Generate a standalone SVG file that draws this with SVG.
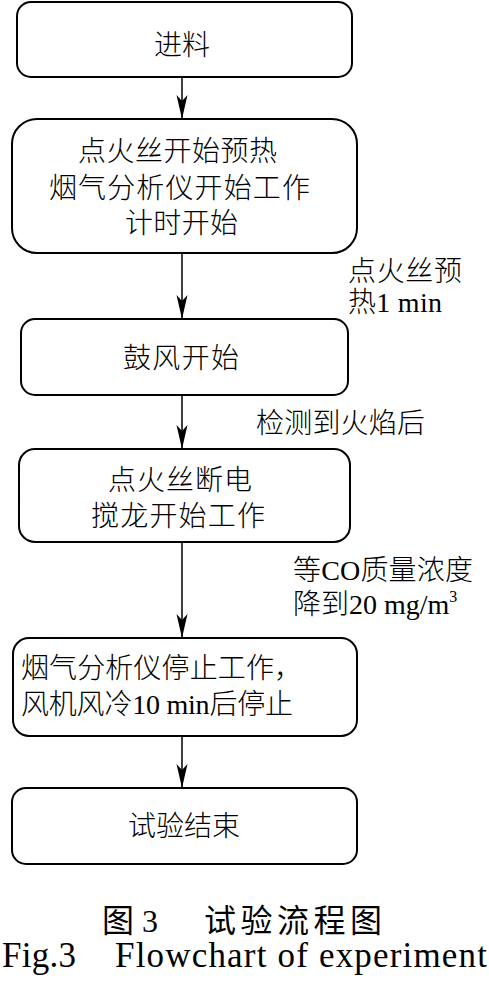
<svg xmlns="http://www.w3.org/2000/svg" width="489" height="995" viewBox="0 0 489 995">
<style>
.box{fill:#fff;stroke:#000;stroke-width:2}
.t{font-family:"Liberation Serif","Noto Sans CJK SC",serif;font-size:28px;fill:#000;font-weight:300}
.cap{font-family:"Liberation Serif","Noto Sans CJK SC",serif;font-size:32px;fill:#000}
.fig{font-family:"Liberation Serif",serif;font-size:35px;fill:#000}
.ln{stroke:#000;stroke-width:1.5;fill:none;marker-end:url(#ah)}
</style>
<defs>
<marker id="ah" markerUnits="userSpaceOnUse" viewBox="0 0 24 12" refX="24" refY="6" markerWidth="24" markerHeight="12" orient="auto">
<path d="M0,0.5 L6,6 L0,11.5 L24,6 Z" fill="#000"/>
</marker>
</defs>
<rect width="489" height="995" fill="#fff"/>
<g id="connectors">
<line class="ln" x1="182" y1="77" x2="182" y2="119"/>
<line class="ln" x1="182" y1="253" x2="182" y2="319"/>
<line class="ln" x1="182" y1="395" x2="182" y2="449"/>
<line class="ln" x1="182" y1="542" x2="182" y2="638"/>
<line class="ln" x1="182" y1="736" x2="182" y2="788"/>
<text class="t" x="348" y="281" textLength="114" lengthAdjust="spacing">点火丝预</text>
<text class="t" x="348" y="312" textLength="94" lengthAdjust="spacing">热1 min</text>
<text class="t" x="256" y="433" textLength="169" lengthAdjust="spacing">检测到火焰后</text>
<text class="t" x="293" y="580" textLength="180" lengthAdjust="spacing">等CO质量浓度</text>
<text class="t" x="293" y="614">降到20 mg/m<tspan font-size="16" dy="-12">3</tspan></text>
</g>
<g id="n1">
<rect class="box" x="17" y="2" width="335" height="75" rx="14"/>
<text class="t" x="154" y="55" textLength="56" lengthAdjust="spacing">进料</text>
</g>
<g id="n2">
<rect class="box" x="12" y="119" width="345" height="134" rx="25"/>
<text class="t" x="78" y="161" textLength="199" lengthAdjust="spacing">点火丝开始预热</text>
<text class="t" x="49" y="198" textLength="261" lengthAdjust="spacing">烟气分析仪开始工作</text>
<text class="t" x="125" y="233" textLength="113" lengthAdjust="spacing">计时开始</text>
</g>
<g id="n3">
<rect class="box" x="21" y="319" width="327" height="76" rx="14"/>
<text class="t" x="123" y="368" textLength="116" lengthAdjust="spacing">鼓风开始</text>
</g>
<g id="n4">
<rect class="box" x="19" y="449" width="331" height="93" rx="16"/>
<text class="t" x="108" y="490" textLength="144" lengthAdjust="spacing">点火丝断电</text>
<text class="t" x="91" y="526" textLength="174" lengthAdjust="spacing">搅龙开始工作</text>
</g>
<g id="n5">
<rect class="box" x="13" y="638" width="344" height="98" rx="16"/>
<text class="t" x="21" y="678" textLength="281" lengthAdjust="spacing">烟气分析仪停止工作，</text>
<text class="t" x="21" y="714" textLength="272" lengthAdjust="spacing">风机风冷10 min后停止</text>
</g>
<g id="n6">
<rect class="box" x="12" y="788" width="345" height="76" rx="14"/>
<text class="t" x="128" y="836" textLength="112" lengthAdjust="spacing">试验结束</text>
</g>
<g id="caption">
<text class="cap" x="102" y="932">图 3</text>
<text class="cap" x="204" y="932" textLength="178" lengthAdjust="spacing">试验流程图</text>
<text class="fig" x="2" y="967" textLength="74" lengthAdjust="spacing">Fig.3</text>
<text class="fig" x="115" y="967" textLength="372" lengthAdjust="spacing">Flowchart of experiment</text>
</g>
</svg>
